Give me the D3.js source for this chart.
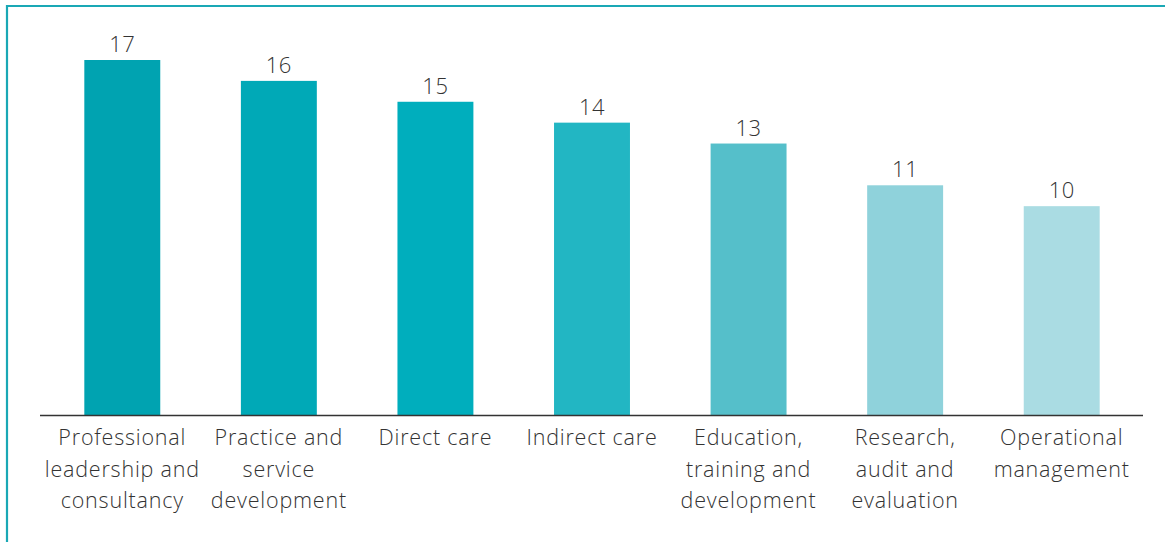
<!DOCTYPE html>
<html>
<head>
<meta charset="utf-8">
<script src="https://cdn.jsdelivr.net/npm/d3@7"></script>
<style>
  body { margin: 0; background: #fff; }
  svg { display: block; font-family: "Open Sans", Lato, sans-serif; font-weight: 300; }
</style>
</head>
<body>
<div id="chart"></div>
<script>
const categories = [
  ["Professional", "leadership and", "consultancy"],
  ["Practice and", "service", "development"],
  ["Direct care"],
  ["Indirect care"],
  ["Education,", "training and", "development"],
  ["Research,", "audit and", "evaluation"],
  ["Operational", "management"]
];
const values = [17, 16, 15, 14, 13, 11, 10];
const colors = ["#00a3b1", "#00a9b7", "#00aebd", "#22b6c3", "#55bfca", "#8fd2db", "#aadce3"];

const width = 1165, height = 542;
const baseline = 415;

const svg = d3.select("#chart")
  .append("svg")
  .attr("width", width)
  .attr("height", height);

// frame
svg.append("path")
  .attr("d", `M7,${height} V6 H${width}`)
  .attr("fill", "none")
  .attr("stroke", "#1aa8b5")
  .attr("stroke-width", 2.2);

const x = d3.scaleBand()
  .domain(d3.range(values.length))
  .range([44, 1140])
  .paddingInner(0.515)
  .paddingOuter(0.2575);

const y = d3.scaleLinear()
  .domain([0, 17])
  .range([baseline, 60]);

svg.selectAll("rect.bar")
  .data(values)
  .join("rect")
  .attr("class", "bar")
  .attr("x", (d, i) => x(i))
  .attr("y", d => y(d))
  .attr("width", x.bandwidth())
  .attr("height", d => baseline - y(d))
  .attr("fill", (d, i) => colors[i]);

svg.selectAll("text.value")
  .data(values)
  .join("text")
  .attr("class", "value")
  .attr("x", (d, i) => x(i) + x.bandwidth() / 2)
  .attr("y", d => y(d) - 8)
  .attr("text-anchor", "middle")
  .attr("fill", "#333")
  .style("font-size", "22px")
  .style("letter-spacing", "0.5px")
  .text(d => d);

// axis line
svg.append("line")
  .attr("x1", 40).attr("x2", 1143)
  .attr("y1", baseline + 0.5).attr("y2", baseline + 0.5)
  .attr("stroke", "#333")
  .attr("stroke-width", 1.3);

const labels = svg.selectAll("text.cat")
  .data(categories)
  .join("text")
  .attr("class", "cat")
  .attr("x", (d, i) => x(i) + x.bandwidth() / 2)
  .attr("y", 445)
  .attr("text-anchor", "middle")
  .attr("fill", "#333")
  .style("font-size", "21.5px")
  .style("letter-spacing", "0.8px");

labels.selectAll("tspan")
  .data(d => d)
  .join("tspan")
  .attr("x", function () { return d3.select(this.parentNode).attr("x"); })
  .attr("dy", (d, i) => i === 0 ? 0 : 31.5)
  .text(d => d);
</script>
</body>
</html>
